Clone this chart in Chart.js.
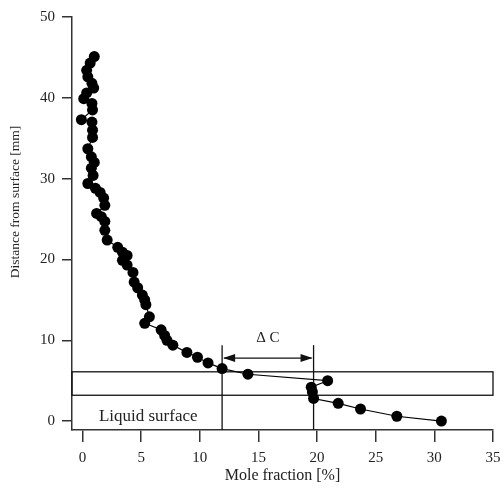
<!DOCTYPE html>
<html>
<head>
<meta charset="utf-8">
<script src="https://cdn.jsdelivr.net/npm/chart.js@4/dist/chart.umd.min.js"></script>
<style>
  html, body { margin: 0; padding: 0; background: #fff; }
  #wrap { width: 504px; height: 489px; position: relative; }
</style>
</head>
<body>
<div id="wrap"><canvas id="c" width="504" height="489"></canvas></div>
<script>
// Measured profile: mole fraction [%] vs distance from surface [mm]
const moleFraction = [1.0, 0.65, 0.35, 0.45, 0.8, 0.95, 0.35, 0.1, 0.8, 0.85, -0.1, 0.8, 0.85, 0.85,
  0.45, 0.75, 1.0, 0.75, 0.9, 0.45, 1.1, 1.5, 1.8, 1.9, 1.2, 1.6, 1.9, 1.9, 2.1, 3.0, 3.4, 3.8, 3.4,
  3.8, 4.3, 4.4, 4.7, 5.1, 5.3, 5.4, 5.7, 5.3, 6.7, 7.0, 7.2, 7.7, 8.9, 9.8, 10.7, 11.9, 14.1, 20.9,
  19.5, 19.6, 19.7, 21.8, 23.7, 26.8, 30.6];
const distance = [45.1, 44.3, 43.4, 42.6, 41.8, 41.2, 40.6, 39.9, 39.3, 38.5, 37.3, 37.0, 36.0, 35.1,
  33.7, 32.7, 32.0, 31.3, 30.4, 29.4, 28.8, 28.3, 27.6, 26.7, 25.7, 25.3, 24.7, 23.6, 22.4, 21.5, 20.9,
  20.5, 19.9, 19.3, 18.4, 17.2, 16.5, 15.6, 15.0, 14.4, 12.9, 12.1, 11.3, 10.6, 10.0, 9.4, 8.5, 7.9,
  7.2, 6.5, 5.8, 5.0, 4.2, 3.6, 2.8, 2.2, 1.5, 0.6, 0.0];
const xTicks = [0, 5, 10, 15, 20, 25, 30, 35];
const yTicks = [0, 10, 20, 30, 40, 50];
const xRange = [-0.9, 35];
const yRange = [-1.1, 50];
// Annotations
const bandY = [3.2, 6.1];            // horizontal band (mm)
const deltaX = [11.9, 19.7];         // vertical lines (%)
const deltaTop = 9.4;                // top of vertical lines (mm)
const arrowY = 7.8;                  // arrow height (mm)
const deltaLabel = { text: 'Δ C', x: 15.8, y: 10.3 };
const surfaceLabel = { text: 'Liquid surface', x: 5.6, y: 0.6 };
const xTitle = 'Mole fraction [%]';
const yTitle = 'Distance from surface [mm]';

const FONT = '"Liberation Serif", "Times New Roman", serif';
const points = moleFraction.map((x, i) => ({ x: x, y: distance[i] }));

const overlay = {
  id: 'overlay',
  beforeDatasetsDraw(chart) {
    const { ctx, scales: { x, y } } = chart;
    ctx.save();
    ctx.strokeStyle = '#111';
    ctx.fillStyle = '#111';
    ctx.lineWidth = 1.3;
    // band
    const x0 = x.getPixelForValue(xRange[0]), x1 = x.getPixelForValue(xRange[1]);
    const yt = y.getPixelForValue(bandY[1]), yb = y.getPixelForValue(bandY[0]);
    ctx.strokeRect(x0, yt, x1 - x0, yb - yt);
    // vertical lines
    deltaX.forEach(v => {
      const px = x.getPixelForValue(v);
      ctx.beginPath();
      ctx.moveTo(px, y.getPixelForValue(yRange[0]));
      ctx.lineTo(px, y.getPixelForValue(deltaTop));
      ctx.stroke();
    });
    // arrow
    const ax0 = x.getPixelForValue(deltaX[0]), ax1 = x.getPixelForValue(deltaX[1]);
    const ay = y.getPixelForValue(arrowY);
    ctx.beginPath();
    ctx.moveTo(ax0 + 2, ay); ctx.lineTo(ax1 - 2, ay); ctx.stroke();
    const hl = 12, hw = 4;
    ctx.beginPath();
    ctx.moveTo(ax0 + 1, ay); ctx.lineTo(ax0 + 1 + hl, ay - hw); ctx.lineTo(ax0 + 1 + hl, ay + hw); ctx.closePath(); ctx.fill();
    ctx.beginPath();
    ctx.moveTo(ax1 - 1, ay); ctx.lineTo(ax1 - 1 - hl, ay - hw); ctx.lineTo(ax1 - 1 - hl, ay + hw); ctx.closePath(); ctx.fill();
    // labels
    ctx.textAlign = 'center';
    ctx.textBaseline = 'middle';
    ctx.fillStyle = '#222';
    ctx.font = '15px ' + FONT;
    ctx.fillText(deltaLabel.text, x.getPixelForValue(deltaLabel.x), y.getPixelForValue(deltaLabel.y));
    ctx.font = '17px ' + FONT;
    ctx.fillText(surfaceLabel.text, x.getPixelForValue(surfaceLabel.x), y.getPixelForValue(surfaceLabel.y));
    // y title
    ctx.save();
    ctx.font = '13.5px ' + FONT;
    ctx.translate(15, 202);
    ctx.rotate(-Math.PI / 2);
    ctx.fillText(yTitle, 0, 0);
    ctx.restore();
    ctx.restore();
  }
};

new Chart(document.getElementById('c'), {
  type: 'scatter',
  data: {
    datasets: [{
      data: points,
      showLine: true,
      borderColor: '#000',
      borderWidth: 1.2,
      backgroundColor: '#000',
      pointBackgroundColor: '#000',
      pointBorderWidth: 0,
      pointRadius: 5.5,
      pointHoverRadius: 5.5
    }]
  },
  options: {
    responsive: false,
    animation: false,
    events: [],
    layout: { padding: { left: 0, right: 11, top: 17, bottom: 0 } },
    plugins: { legend: { display: false }, tooltip: { enabled: false } },
    scales: {
      x: {
        type: 'linear',
        min: xRange[0], max: xRange[1],
        afterBuildTicks: s => { s.ticks = xTicks.map(v => ({ value: v })); },
        afterFit: s => { s.height = 59; s.paddingRight = 0; s.paddingLeft = 0; },
        grid: { drawOnChartArea: false, drawTicks: true, tickLength: 12, color: '#333', lineWidth: 1.5 },
        border: { display: true, color: '#333', width: 1.5 },
        ticks: { color: '#222', padding: 7, maxRotation: 0, font: { family: FONT, size: 15 } },
        title: { display: true, text: xTitle, color: '#222', padding: { top: 0, bottom: 4 }, font: { family: FONT, size: 16 } }
      },
      y: {
        type: 'linear',
        min: yRange[0], max: yRange[1],
        afterBuildTicks: s => { s.ticks = yTicks.map(v => ({ value: v })); },
        afterFit: s => { s.width = 72; },
        grid: { drawOnChartArea: false, drawTicks: true, tickLength: 10, color: '#333', lineWidth: 1.5 },
        border: { display: true, color: '#333', width: 1.5 },
        ticks: { color: '#222', padding: 7, font: { family: FONT, size: 15 } }
      }
    }
  },
  plugins: [overlay]
});
</script>
</body>
</html>
